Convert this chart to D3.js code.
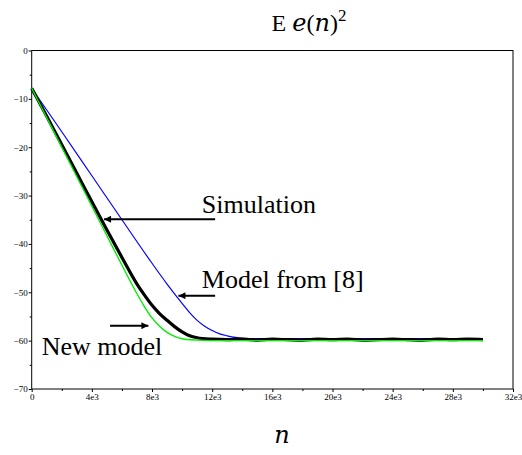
<!DOCTYPE html>
<html>
<head>
<meta charset="utf-8">
<script src="https://cdn.jsdelivr.net/npm/d3@7"></script>
<style>
  body { margin: 0; background: #fff; }
  text { font-family: "Liberation Serif", "DejaVu Serif", serif; }
  .it { font-family: "DejaVu Serif", serif; font-style: italic; }
</style>
</head>
<body>
<div id="chart"></div>
<script>
// curve values (n, dB)
var n_green = [0, 1000, 2000, 3000, 4000, 5000, 6000, 7000, 7500, 8000, 8500, 9000, 9500, 10000, 11000, 12000, 20000, 30000];
var v_green = [-7.8, -13.9, -20.0, -26.1, -32.2, -38.3, -44.4, -50.3, -53.0, -55.3, -57.0, -58.3, -59.1, -59.6, -59.9, -60.0, -60.0, -60.0];

var n_blue = [0, 2000, 4000, 6000, 8000, 9000, 10000, 10500, 11000, 11500, 12000, 12500, 13000, 14000, 15000, 20000, 30000];
var v_blue = [-7.8, -16.8, -25.9, -35.0, -44.0, -48.3, -52.3, -54.2, -55.8, -57.0, -57.9, -58.6, -59.0, -59.5, -59.6, -59.6, -59.6];

var n_black = [0, 1000, 2000, 3000, 4000, 5000, 6000, 7000, 7500, 8000, 8500, 9000, 9500, 10000, 10500, 11000, 12000,
               13000, 14000, 15000, 16000, 17000, 18000, 19000, 20000, 21000, 22000, 23000, 24000, 25000, 26000, 27000, 28000, 29000, 30000];
var v_black = [-7.8, -13.6, -19.5, -25.4, -31.3, -37.1, -42.8, -48.3, -50.6, -52.7, -54.4, -55.8, -57.1, -58.2, -59.0, -59.4, -59.7,
               -59.8, -59.7, -59.9, -59.7, -59.8, -59.9, -59.7, -59.8, -59.7, -59.9, -59.8, -59.7, -59.8, -59.9, -59.7, -59.8, -59.7, -59.8];

var xTicks = [0, 4000, 8000, 12000, 16000, 20000, 24000, 28000, 32000];
var xTickLabels = ["0", "4e3", "8e3", "12e3", "16e3", "20e3", "24e3", "28e3", "32e3"];
var yTicks = [0, -10, -20, -30, -40, -50, -60, -70];

// annotations, in data units
var notes = [
  {text: "Simulation",     n: 11310, v: -33.6},
  {text: "Model from [8]", n: 11310, v: -49.1},
  {text: "New model",      n: 665,   v: -62.9}
];
var arrows = [
  {n0: 12195, n1: 4810, v: -34.9},
  {n0: 12195, n1: 9754, v: -50.7},
  {n0: 5210,  n1: 7758, v: -56.9}
];

var svg = d3.select("#chart")
    .append("svg")
    .attr("width", 522)
    .attr("height", 455);

var xScale = d3.scaleLinear().domain([0, 32000]).range([31.7, 513]);
var yScale = d3.scaleLinear().domain([-70, 0]).range([389, 50.5]);

// frame
svg.append("rect")
    .attr("x", xScale(0))
    .attr("y", yScale(0))
    .attr("width", xScale(32000) - xScale(0))
    .attr("height", yScale(-70) - yScale(0))
    .style("fill", "none")
    .style("stroke", "#000")
    .style("stroke-width", 1);

// axes
var xAxis = d3.axisBottom(xScale).tickValues(xTicks).tickSize(3)
    .tickFormat(function(d, i) { return xTickLabels[i]; });
var xMinor = d3.axisBottom(xScale).tickValues(d3.range(2000, 32000, 4000)).tickSize(2).tickFormat("");
var yAxis = d3.axisLeft(yScale).tickValues(yTicks).tickSize(3)
    .tickFormat(function(d) { return d < 0 ? "\u2212" + (-d) : d; });
var yMinor = d3.axisLeft(yScale).tickValues(d3.range(-5, -70, -10)).tickSize(2).tickFormat("");

svg.append("g").attr("transform", "translate(0," + yScale(-70) + ")").call(xAxis)
    .attr("font-family", "Liberation Serif")
    .call(function(g) { g.select(".domain").remove(); })
    .selectAll("text").attr("dy", "0.5em").style("font-size", "9px");
svg.append("g").attr("transform", "translate(0," + yScale(-70) + ")").call(xMinor)
    .call(function(g) { g.select(".domain").remove(); });
svg.append("g").attr("transform", "translate(" + xScale(0) + ",0)").call(yAxis)
    .attr("font-family", "Liberation Serif")
    .call(function(g) { g.select(".domain").remove(); })
    .selectAll("text").attr("x", -4).style("font-size", "9px");
svg.append("g").attr("transform", "translate(" + xScale(0) + ",0)").call(yMinor)
    .call(function(g) { g.select(".domain").remove(); });

// curves
var line = d3.line()
    .x(function(d) { return xScale(d[0]); })
    .y(function(d) { return yScale(d[1]); })
    .curve(d3.curveMonotoneX);

function pairs(a, b) { return a.map(function(d, i) { return [d, b[i]]; }); }

svg.append("path")
    .attr("d", line(pairs(n_blue, v_blue)))
    .style("fill", "none").style("stroke", "#0000ff").style("stroke-width", 1.2);
svg.append("path")
    .attr("d", line(pairs(n_black, v_black)))
    .style("fill", "none").style("stroke", "#000").style("stroke-width", 3.2)
    .style("stroke-linejoin", "round");
svg.append("path")
    .attr("d", line(pairs(n_green, v_green)))
    .style("fill", "none").style("stroke", "#00ee00").style("stroke-width", 1.4);

// arrows
svg.append("defs").append("marker")
    .attr("id", "head")
    .attr("viewBox", "0 0 10 10")
    .attr("refX", 10).attr("refY", 5)
    .attr("markerWidth", 10).attr("markerHeight", 7)
    .attr("markerUnits", "userSpaceOnUse")
    .attr("orient", "auto")
    .append("path").attr("d", "M0,0 L10,5 L0,10 Z").style("fill", "#000");

svg.selectAll(".arrow")
    .data(arrows)
    .enter().append("line")
    .attr("class", "arrow")
    .attr("x1", function(d) { return xScale(d.n0); })
    .attr("x2", function(d) { return xScale(d.n1); })
    .attr("y1", function(d) { return yScale(d.v); })
    .attr("y2", function(d) { return yScale(d.v); })
    .style("stroke", "#000").style("stroke-width", 2)
    .attr("marker-end", "url(#head)");

svg.selectAll(".note")
    .data(notes)
    .enter().append("text")
    .attr("class", "note")
    .attr("x", function(d) { return xScale(d.n); })
    .attr("y", function(d) { return yScale(d.v); })
    .style("font-size", "26px")
    .text(function(d) { return d.text; });

// title  E e(n)^2
var title = svg.append("text")
    .attr("x", 309).attr("y", 31)
    .attr("text-anchor", "middle")
    .style("font-size", "24px");
title.append("tspan").text("E ");
title.append("tspan").attr("class", "it").text("e");
title.append("tspan").text("(");
title.append("tspan").attr("class", "it").text("n");
title.append("tspan").text(")");
title.append("tspan").attr("dy", -10).style("font-size", "17px").text("2");

// x label
svg.append("text")
    .attr("class", "it")
    .attr("x", 282).attr("y", 443)
    .attr("text-anchor", "middle")
    .style("font-size", "24px")
    .text("n");
</script>
</body>
</html>
